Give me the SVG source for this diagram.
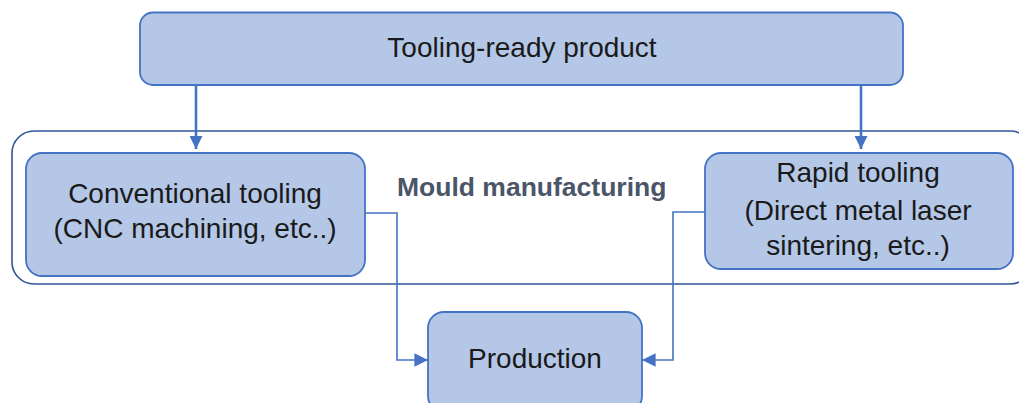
<svg xmlns="http://www.w3.org/2000/svg" width="1019" height="403" viewBox="0 0 1019 403">
  <style>
    .box { fill: #b4c7e7; stroke: #4472c4; stroke-width: 1.8; }
    .lbl { font-family: "Liberation Sans", Arial, sans-serif; font-size: 28px; fill: #1a1a1a; text-anchor: middle; }
    .group-title { font-family: "Liberation Sans", Arial, sans-serif; font-size: 26.5px; font-weight: bold; fill: #4a5568; }
    .feed { fill: none; stroke: #4472c4; stroke-width: 2.6; }
    .flow { fill: none; stroke: #4472c4; stroke-width: 1.6; }
  </style>
  <defs>
    <marker id="headBig" viewBox="0 0 10 10" refX="10" refY="5" markerWidth="5" markerHeight="5" markerUnits="strokeWidth" orient="auto">
      <path d="M0,0 L10,5 L0,10 Z" fill="#4472c4"/>
    </marker>
    <marker id="headSmall" viewBox="0 0 10 10" refX="10" refY="5" markerWidth="8.5" markerHeight="8.5" markerUnits="strokeWidth" orient="auto">
      <path d="M0,0 L10,5 L0,10 Z" fill="#4472c4"/>
    </marker>
  </defs>

  <!-- Mould manufacturing container -->
  <g id="mould-manufacturing">
    <rect x="12" y="131" width="1020" height="153" rx="22" fill="none" stroke="#2f5597" stroke-width="1.6"/>
    <text class="group-title" x="397" y="196">Mould manufacturing</text>
  </g>

  <g id="tooling-ready-product">
    <rect class="box" x="140" y="12.5" width="763" height="72.5" rx="13"/>
    <text class="lbl" x="522" y="57">Tooling-ready product</text>
  </g>

  <g id="conventional-tooling">
    <rect class="box" x="26" y="153" width="339" height="123" rx="16"/>
    <text class="lbl" x="195" y="203">Conventional tooling</text>
    <text class="lbl" x="195" y="238">(CNC machining, etc..)</text>
  </g>

  <g id="rapid-tooling">
    <rect class="box" x="705" y="153" width="308" height="116" rx="16"/>
    <text class="lbl" x="858" y="182">Rapid tooling</text>
    <text class="lbl" x="858" y="220">(Direct metal laser</text>
    <text class="lbl" x="858" y="255">sintering, etc..)</text>
  </g>

  <g id="production">
    <rect class="box" x="428" y="312" width="214" height="100" rx="16"/>
    <text class="lbl" x="535" y="368">Production</text>
  </g>

  <g id="connectors">
    <path class="feed" d="M196,85 V149" marker-end="url(#headBig)"/>
    <path class="feed" d="M861,85 V149" marker-end="url(#headBig)"/>
    <path class="flow" d="M365,213 H397 V360 H428" marker-end="url(#headSmall)"/>
    <path class="flow" d="M705,212 H673 V360 H642" marker-end="url(#headSmall)"/>
  </g>
</svg>
